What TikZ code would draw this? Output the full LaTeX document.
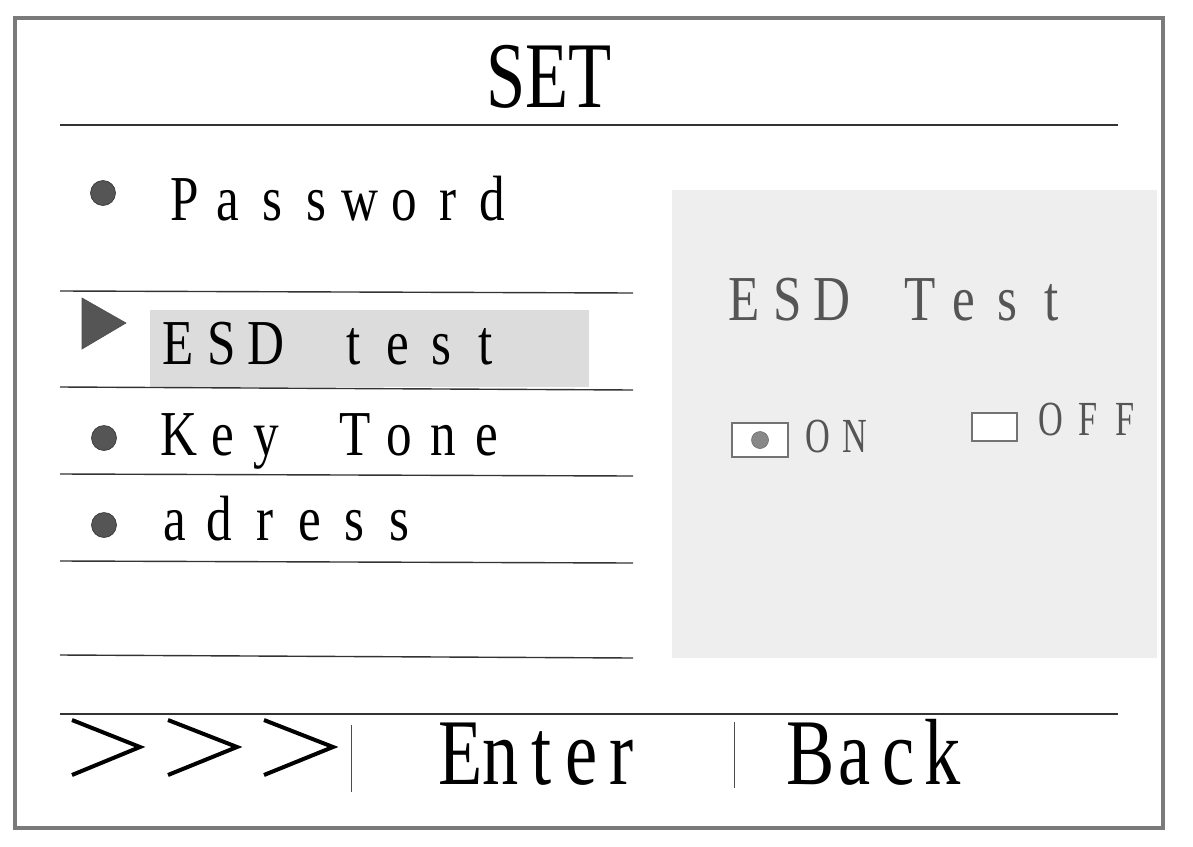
\documentclass[tikz,border=0pt]{standalone}
\usepackage{fontspec}
\setmainfont{Liberation Serif}
\definecolor{framegray}{HTML}{7A7A7A}
\definecolor{rulecol}{HTML}{333333}
\definecolor{dotcol}{HTML}{555555}
\definecolor{hlgray}{HTML}{DCDCDC}
\definecolor{panelgray}{HTML}{EEEEEE}
\definecolor{paneltext}{HTML}{555555}
\definecolor{ondot}{HTML}{888888}
\newlength\monowd
\newcommand\mono[2]{\setlength\monowd{#1}\monoloop#2\relax}
\newcommand\monoloop[1]{\ifx#1\relax\else\makebox[\monowd][c]{#1}\expandafter\monoloop\fi}
\begin{document}
\begin{tikzpicture}[x=0.5pt,y=-0.5pt,
  rule/.style={draw=rulecol, line width=0.7pt},
  menu/.style={anchor=base west, inner sep=0pt, font=\fontsize{32}{32}\selectfont, xscale=0.8},
  bulletdot/.style={circle, fill=dotcol, draw=black!80, line width=0.3pt, minimum size=12.5pt, inner sep=0pt},
  chev/.style={draw=black, line width=2pt, line cap=butt, line join=miter},
  sep/.style={draw=black!70, line width=0.5pt},
  big/.style={anchor=base west, inner sep=0pt, font=\fontsize{47}{47}\selectfont, xscale=0.77},
  cbox/.style={draw=black!55, fill=white, line width=0.6pt, inner sep=0pt},
  paneltxt/.style={anchor=base west, inner sep=0pt, text=paneltext},
  onoff/.style={paneltxt, font=\fontsize{24.5}{24.5}\selectfont, xscale=0.7}
]
\useasboundingbox (0,0) rectangle (1193,846);
\fill[white] (0,0) rectangle (1193,846);
% outer frame
\draw[draw=framegray, line width=1.6pt] (15,18) rectangle (1163,828);
% title
\node[anchor=base, inner sep=0pt, font=\fontsize{47}{47}\selectfont, xscale=0.75] (set) at (549,107) {SET};
\draw[rule] (60,125) -- (1118,125);
% right panel
\fill[panelgray] (672,190) rectangle (1157,658);
\node[menu, text=paneltext] (esdT) at (721.5,320) {\mono{27.5pt}{ESD~Test}};
\node[cbox, minimum width=28pt, minimum height=17pt] (onbox) at (760,440) {};
\node[circle, fill=ondot, draw=ondot!80!black, line width=0.3pt, minimum size=8.5pt, inner sep=0pt] (ondotn) at (onbox.center) {};
\node[onoff] (on) at (799,452) {\mono{26.4pt}{ON}};
\node[cbox, minimum width=22.5pt, minimum height=14pt] (offbox) at (994.5,427) {};
\node[onoff] (off) at (1032,435) {\mono{26.4pt}{OFF}};
% highlight
\fill[hlgray] (150,310) rectangle (589,387);
% menu items
\node[bulletdot] (b1) at (103,193) {};
\node[menu] (pw) at (162,220) {\mono{27.5pt}{Password}};
\draw[rule] (60,291) -- (633,293);
\fill[dotcol] (82,298) -- (82,349) -- (126,323) -- cycle;
\draw[black!70, line width=0.3pt] (82,298) -- (82,349) -- (126,323) -- cycle;
\node[menu] (esd) at (155.5,364) {\mono{27.5pt}{ESD~test}};
\draw[rule] (60,387) -- (633,390);
\node[bulletdot] (b2) at (104,438) {};
\node[menu] (kt) at (156.5,455) {\mono{27.5pt}{Key~Tone}};
\draw[rule] (60,474) -- (633,476);
\node[bulletdot] (b3) at (104,525) {};
\node[menu] (ad) at (152,540) {\mono{28.1pt}{adress}};
\draw[rule] (60,561) -- (633,563);
\draw[rule] (60,655) -- (633,658);
% bottom bar
\draw[rule] (60,714) -- (1118,714);
\coordinate (c1a) at (72,720); \coordinate (c1b) at (140,747); \coordinate (c1c) at (72,775);
\coordinate (c2a) at (168,720); \coordinate (c2b) at (237,747); \coordinate (c2c) at (168,775);
\coordinate (c3a) at (264,720); \coordinate (c3b) at (333,747); \coordinate (c3c) at (264,775);
\draw[chev] (c1a) -- (c1b) -- (c1c);
\draw[chev] (c2a) -- (c2b) -- (c2c);
\draw[chev] (c3a) -- (c3b) -- (c3c);
\coordinate (s1t) at (351,725); \coordinate (s1b) at (351,792);
\draw[sep] (s1t) -- (s1b);
\node[big] (enter) at (440,784) {\mono{26.2pt}{Enter}};
\coordinate (s2t) at (734,722); \coordinate (s2b) at (734,788);
\draw[sep] (s2t) -- (s2b);
\node[big] (back) at (788,784) {\mono{28.6pt}{Back}};
\end{tikzpicture}
\end{document}
